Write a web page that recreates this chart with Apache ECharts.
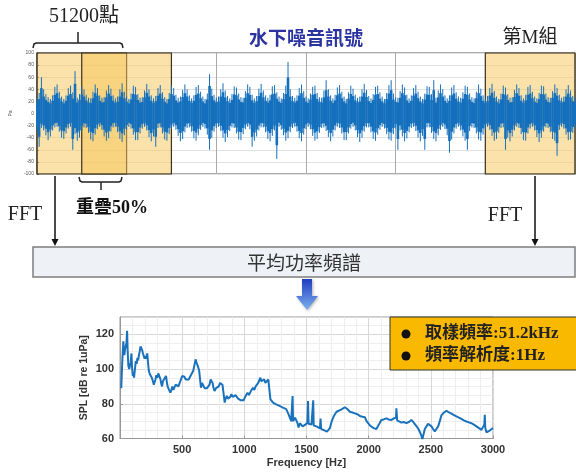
<!DOCTYPE html>
<html>
<head>
<meta charset="utf-8">
<script src="https://cdn.jsdelivr.net/npm/echarts/dist/echarts.min.js"></script>
<style>
html, body { margin: 0; padding: 0; background: #fff; }
#chart { width: 576px; height: 473px; }
</style>
</head>
<body>
<div id="chart"></div>
<script>
// 水下噪音訊號 (Pa): 每一小段的上包絡與下包絡, 段索引 0..240
const sigHigh = [
  26,34,60,40,32,27,24,30,44,48,
  36,28,24,30,42,46,35,70,26,32,
  45,40,31,26,25,36,48,42,30,26,
  27,38,47,41,30,25,28,40,50,36,
  28,24,33,46,44,32,26,27,38,49,
  40,30,25,29,42,47,35,27,24,34,
  46,42,31,26,28,39,48,40,30,25,
  30,44,47,36,28,24,33,65,41,31,
  26,28,40,50,38,29,25,32,45,43,
  33,27,26,37,48,44,31,25,29,41,
  49,38,30,26,31,45,47,35,28,25,
  34,46,85,40,29,26,30,42,48,37,
  28,25,33,44,46,34,27,26,38,55,
  40,30,25,31,43,47,36,28,24,35,
  46,41,31,26,28,40,49,39,29,25,
  32,44,46,35,28,24,34,47,55,33,
  27,26,37,48,43,31,25,30,42,47,
  36,28,24,33,45,44,32,55,26,38,
  48,40,30,25,30,43,47,35,28,26,
  35,46,44,33,27,25,36,48,41,30,
  25,29,42,49,37,28,24,33,46,43,
  32,26,27,39,48,42,30,25,31,44,
  47,36,28,25,34,46,45,33,27,26,
  37,48,42,31,26,28,40,47,38,29,
  26
];
const sigLow = [
  -30,-55,-24,-28,-36,-44,-38,-28,-23,-22,
  -30,-40,-42,-33,-25,-22,-60,-34,-45,-40,
  -29,-23,-24,-32,-43,-46,-35,-26,-22,-27,
  -38,-45,-41,-30,-23,-22,-31,-42,-47,-36,
  -27,-22,-25,-35,-44,-44,-33,-25,-22,-28,
  -39,-46,-38,-55,-24,-23,-33,-43,-45,-34,
  -26,-22,-27,-37,-46,-42,-31,-24,-23,-30,
  -41,-45,-36,-27,-22,-25,-35,-60,-40,-30,
  -24,-22,-29,-40,-47,-39,-29,-23,-24,-33,
  -43,-44,-34,-26,-22,-26,-55,-45,-38,-28,
  -23,-23,-31,-42,-46,-37,-28,-75,-22,-27,
  -36,-45,-41,-31,-24,-22,-30,-41,-46,-35,
  -26,-22,-26,-37,-45,-42,-32,-24,-23,-29,
  -39,-46,-38,-28,-22,-24,-33,-44,-44,-33,
  -25,-22,-28,-39,-47,-40,-30,-23,-23,-31,
  -42,-45,-35,-27,-22,-25,-34,-43,-45,-34,
  -25,-60,-28,-38,-46,-41,-31,-24,-22,-29,
  -40,-46,-37,-60,-23,-23,-32,-42,-46,-36,
  -27,-22,-26,-36,-65,-43,-33,-25,-22,-28,
  -38,-45,-60,-29,-23,-24,-33,-43,-45,-35,
  -26,-22,-27,-37,-45,-42,-32,-24,-23,-60,
  -40,-46,-38,-28,-22,-24,-34,-44,-45,-33,
  -25,-22,-28,-39,-47,-40,-30,-23,-24,-31,
  -42,-45,-70,-27,-22,-25,-35,-44,-43,-32,
  -25
];

// 分段視窗 (起點, 終點), 50% 重疊
const windows = [[0, 40], [20, 60], [200, 240]];

// 平均功率頻譜
const freq = [
  10,18,27,32,35,40,46,52,57,62,67,74,81,86,92,97,103,108,113,120,
  127,134,140,146,151,158,165,172,178,185,192,198,205,212,219,225,232,240,248,256,
  265,272,278,285,292,300,308,316,324,331,338,345,351,360,370,376,383,394,405,413,
  421,429,437,448,459,470,481,490,500,509,518,529,540,553,567,578,589,598,608,614,
  621,629,637,644,651,660,670,680,691,700,710,720,729,737,745,752,761,772,783,794,
  805,815,824,833,842,850,859,868,878,887,896,907,918,929,940,950,961,972,983,994,
  1004,1015,1026,1037,1048,1058,1069,1080,1091,1101,1112,1120,1129,1137,1145,1153,1161,1169,1177,1185,
  1193,1200,1210,1220,1231,1243,1256,1270,1283,1296,1310,1323,1337,1346,1355,1366,1377,1384,1388,1392,
  1399,1408,1418,1427,1436,1447,1458,1469,1480,1490,1500,1507,1512,1517,1527,1540,1550,1554,1558,1567,
  1580,1595,1608,1613,1618,1635,1650,1665,1675,1688,1702,1720,1742,1760,1782,1795,1809,1828,1849,1869,
  1889,1909,1929,1950,1969,1983,1996,2010,2022,2040,2062,2082,2102,2120,2143,2160,2183,2200,2220,2223,
  2229,2245,2263,2285,2303,2323,2344,2364,2384,2400,2411,2422,2432,2440,2451,2465,2478,2490,2505,2518,
  2532,2545,2559,2572,2586,2606,2626,2646,2666,2686,2706,2726,2746,2766,2786,2806,2826,2846,2867,2887,
  2907,2920,2930,2934,2938,2947,2960,2974,2987,3000
];
const spl = [
  89,104,116,110,108,111,113,115,122,110,102,100,99,104,109,101,96,98,95,100,
  104.6,103,106.5,105,107.5,110,113,112,111,109,108.5,106,107.5,106,109,104,99,97,96,95,
  93,91,90,94,96.4,95,97.5,96,94.5,92,90,93,92,94,96,93,90,88,86.4,88,
  90,88,89.3,91,92,90,91,94,96,95,95.6,94,95,94,96,97,99,102,105.6,104,
  102.7,101,99,94,89.3,92,91,89,90,89,88.4,91,94,93,92,89,87.4,89,88.7,90,
  92,93,91,86,80.7,83,84.5,83,83.6,84,85.5,84,83.6,85,84.5,83,83,82,81,82,
  83.6,85,86.4,85,86,88,89.3,88,90,91,92,93,95,93,92,93,94,92,91,92,
  94,89,82.6,81.5,80.7,80,79.7,79,78.8,78,77.8,77,76.9,75.5,74,72,70,71,84.5,70,
  70,72,71,69,66.3,68.8,68,67,67.7,68,69,69,81.6,68.5,68.4,68,67,82,67.5,67.6,
  67,66.5,65.9,71.5,65.5,65,64.5,64,63.4,66,69.7,73,75.4,76,76.8,77,78,77,75.4,75,
  74.5,74,73,72.5,72.3,70,68.8,67.5,66.4,66,65.5,68,70.7,71,71.6,71,70.7,71.5,72,77.4,
  70.4,70,69.2,69.5,68.8,69.5,70.7,69,67.2,65.5,63.9,62,59.6,62,65.3,67,68.4,68,67,65.5,
  64,65.5,67,70,73.5,75,76,75,74.3,73.5,72.7,72,71.3,70.5,69.8,69.3,68.8,68,67,66,
  65,65,68,73.6,66,63.6,64,64.6,65.5,66
];

const infoLines = ['取樣頻率:51.2kHz', '頻率解析度:1Hz'];

const serif = '"Liberation Serif", "DejaVu Serif", "Noto Sans CJK TC", serif';
const cjk = '"Noto Sans CJK TC", "Liberation Serif", sans-serif';
const sans = '"Liberation Sans", Arial, sans-serif';

const chart = echarts.init(document.getElementById('chart'));

// 括號線
function bracket(x1, x2, y, dir, cx, tip) {
    return [
        {
            type: 'polyline', z: 20,
            shape: { points: [[x1, y + dir * 5], [x1 + 1, y + dir * 1], [x1 + 3, y], [x2 - 3, y], [x2 - 1, y + dir * 1], [x2, y + dir * 5]] },
            style: { stroke: '#222', lineWidth: 1.5, fill: null }
        },
        {
            type: 'line', z: 20,
            shape: { x1: cx, y1: y, x2: cx, y2: tip },
            style: { stroke: '#222', lineWidth: 1.5 }
        }
    ];
}

// FFT 箭頭
function arrow(x, y1, y2) {
    return [
        { type: 'line', z: 20, shape: { x1: x, y1: y1, x2: x, y2: y2 - 5 }, style: { stroke: '#111', lineWidth: 1.5 } },
        { type: 'polygon', z: 20, shape: { points: [[x - 3.5, y2 - 7], [x + 3.5, y2 - 7], [x, y2]] }, style: { fill: '#111' } }
    ];
}

const graphics = [
    { type: 'text', z: 20, style: { text: '51200點', x: 84, y: 17, align: 'center', verticalAlign: 'middle', font: '20px ' + serif, fill: '#222' } },
    ...bracket(33, 123, 43, 1, 78, 32),
    ...bracket(79, 122, 182, -1, 101, 190),
    { type: 'text', z: 20, style: { text: '重疊50%', x: 112, y: 208, align: 'center', verticalAlign: 'middle', font: 'bold 18px ' + serif, fill: '#111' } },
    { type: 'text', z: 20, style: { text: 'FFT', x: 25, y: 215, align: 'center', verticalAlign: 'middle', font: '20px ' + serif, fill: '#222' } },
    { type: 'text', z: 20, style: { text: 'FFT', x: 505, y: 216, align: 'center', verticalAlign: 'middle', font: '20px ' + serif, fill: '#222' } },
    ...arrow(55, 176, 246),
    ...arrow(535, 176, 246),
    { type: 'text', z: 20, style: { text: '水下噪音訊號', x: 306, y: 38, align: 'center', verticalAlign: 'middle', font: 'bold 19px ' + cjk, fill: '#2a33a0' } },
    { type: 'text', z: 20, style: { text: '第M組', x: 530, y: 38, align: 'center', verticalAlign: 'middle', font: '19px ' + serif, fill: '#222' } },
    { type: 'rect', z: 20, shape: { x: 33, y: 247, width: 542, height: 30 }, style: { fill: '#eef2f6', stroke: '#7d7d7d', lineWidth: 1.5 } },
    { type: 'text', z: 21, style: { text: '平均功率頻譜', x: 304, y: 263, align: 'center', verticalAlign: 'middle', font: '19px ' + cjk, fill: '#333' } },
    {
        type: 'polygon', z: 20,
        shape: { points: [[302, 279], [312, 279], [312, 296], [318, 296], [307, 310], [296, 296], [302, 296]] },
        style: {
            fill: new echarts.graphic.LinearGradient(0, 0, 0, 1, [
                { offset: 0, color: '#1f3cc0' },
                { offset: 1, color: '#7db0ee' }
            ]),
            shadowBlur: 3, shadowColor: 'rgba(0,0,0,0.3)', shadowOffsetX: 1, shadowOffsetY: 1
        }
    },
    { type: 'rect', z: 30, shape: { x: 390, y: 317, width: 190, height: 53 }, style: { fill: '#f9b900', stroke: '#333', lineWidth: 1 } }
];
infoLines.forEach((t, i) => {
    graphics.push({ type: 'circle', z: 31, shape: { cx: 406, cy: 334 + i * 22, r: 4.5 }, style: { fill: '#111' } });
    graphics.push({ type: 'text', z: 31, style: { text: t, x: 425, y: 334 + i * 22, align: 'left', verticalAlign: 'middle', font: 'bold 17px ' + serif, fill: '#222' } });
});

const option = {
    animation: false,
    grid: [
        { left: 33, top: 53, width: 542, height: 121, show: true, borderColor: '#555', borderWidth: 1, backgroundColor: '#fff' },
        { left: 120, top: 317, width: 373, height: 121.5, show: true, borderColor: '#999', borderWidth: 1 }
    ],
    xAxis: [
        {
            gridIndex: 0, type: 'value', min: 0, max: 240, interval: 40,
            axisLabel: { show: false }, axisTick: { show: false }, axisLine: { show: false },
            splitLine: { lineStyle: { color: '#aaa', width: 1 } }
        },
        {
            gridIndex: 1, type: 'value', min: 0, max: 3000, interval: 500,
            name: 'Frequency [Hz]', nameLocation: 'middle', nameGap: 19, nameMoveOverlap: false,
            nameTextStyle: { fontFamily: sans, fontWeight: 'bold', fontSize: 11, color: '#333' },
            axisLabel: { showMinLabel: false, formatter: v => String(v), fontFamily: sans, fontWeight: 'bold', fontSize: 11, color: '#333', margin: 6 },
            axisLine: { lineStyle: { color: '#999' } },
            axisTick: { inside: true, length: 3, lineStyle: { color: '#999' } },
            splitLine: { lineStyle: { color: '#d8d8d8' } },
            minorTick: { show: false, splitNumber: 5 },
            minorSplitLine: { show: true, lineStyle: { color: '#eeeeee' } }
        }
    ],
    yAxis: [
        {
            gridIndex: 0, type: 'value', min: -100, max: 100, interval: 20,
            name: 'Pa', nameLocation: 'middle', nameGap: 18, nameTextStyle: { fontSize: 5, color: '#555' },
            axisLabel: { fontSize: 5, color: '#555', margin: 3 },
            axisTick: { inside: true, length: 2, lineStyle: { color: '#555' } },
            axisLine: { show: true, lineStyle: { color: '#555' } },
            splitLine: { lineStyle: { color: '#e2e2e2' } }
        },
        {
            gridIndex: 1, type: 'value', min: 60, max: 130, interval: 20,
            name: 'SPL [dB re 1uPa]', nameLocation: 'middle', nameGap: 30, nameMoveOverlap: false,
            nameTextStyle: { fontFamily: sans, fontWeight: 'bold', fontSize: 10.5, color: '#333' },
            axisLabel: { showMaxLabel: false, fontFamily: sans, fontWeight: 'bold', fontSize: 11, color: '#333', margin: 6 },
            axisLine: { show: true, lineStyle: { color: '#999' } },
            axisTick: { inside: true, length: 3, lineStyle: { color: '#999' } },
            splitLine: { lineStyle: { color: '#d8d8d8' } },
            minorTick: { show: false, splitNumber: 4 },
            minorSplitLine: { show: true, lineStyle: { color: '#eeeeee' } }
        }
    ],
    series: [
        {
            type: 'custom', xAxisIndex: 0, yAxisIndex: 0, z: 2, clip: true,
            data: sigHigh.map((h, i) => [i, sigLow[i], h]),
            encode: { x: 0, y: [1, 2] },
            renderItem: function (params, api) {
                const x = api.value(0), lo = api.value(1), hi = api.value(2);
                const top = api.coord([x, hi]);
                const bottom = api.coord([x, lo]);
                const coreTop = api.coord([x, hi * 0.7]);
                const coreBottom = api.coord([x, lo * 0.7]);
                return {
                    type: 'group',
                    children: [
                        {
                            type: 'rect',
                            shape: { x: coreTop[0] - 1.3, y: coreTop[1], width: 2.6, height: coreBottom[1] - coreTop[1] },
                            style: { fill: '#1570bd' }
                        },
                        {
                            type: 'line',
                            shape: { x1: top[0], y1: top[1], x2: bottom[0], y2: bottom[1] },
                            style: { stroke: '#1570bd', lineWidth: 1 }
                        }
                    ]
                };
            }
        },
        {
            type: 'line', xAxisIndex: 0, yAxisIndex: 0, symbol: 'none', z: 10, data: [],
            markArea: {
                silent: true,
                itemStyle: { color: 'rgba(248,198,85,0.5)', borderColor: '#3b3322', borderWidth: 1.2 },
                data: windows.map(w => [{ xAxis: w[0] }, { xAxis: w[1] }])
            }
        },
        {
            type: 'line', xAxisIndex: 1, yAxisIndex: 1, symbol: 'none',
            data: freq.map((f, i) => [f, spl[i]]),
            lineStyle: { color: '#1a72bd', width: 2 }
        }
    ],
    graphic: graphics
};

chart.setOption(option);
</script>
</body>
</html>
